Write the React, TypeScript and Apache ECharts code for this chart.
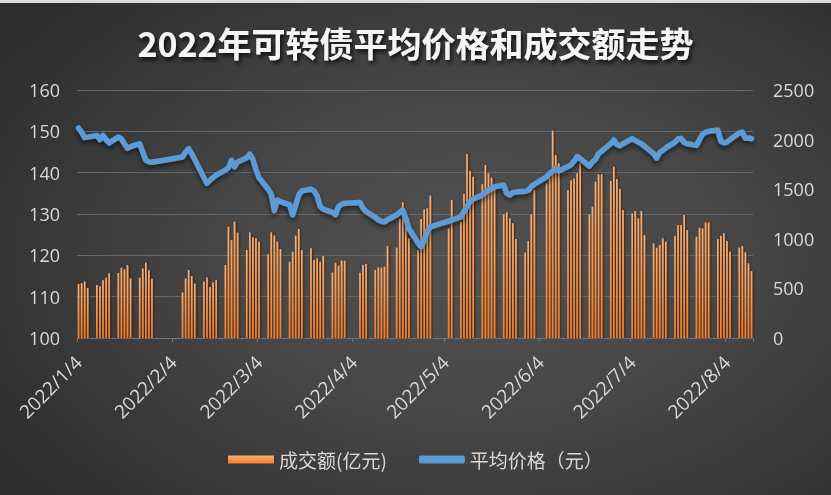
import React, { useEffect, useRef } from "react";
import * as echarts from "echarts";

const TITLE = "2022年可转债平均价格和成交额走势";
const VOLUME_NAME = "成交额(亿元)";
const PRICE_NAME = "平均价格（元）";
const YEAR = 2022;
const FIRST_DAY = [1, 4]; // month, day
const LAST_DAY = [8, 12];
const LABEL_DAY_OF_MONTH = 4;

const priceTicks = { min: 100, max: 160, interval: 10 };
const turnoverTicks = { min: 0, max: 2500, interval: 500 };

const tradeDates = [
  "1/4", "1/5", "1/6", "1/7", "1/10", "1/11", "1/12", "1/13", "1/14", "1/17", "1/18", "1/19", "1/20", "1/21", "1/24", "1/25", "1/26", "1/27", "1/28",
  "2/7", "2/8", "2/9", "2/10", "2/11", "2/14", "2/15", "2/16", "2/17", "2/18", "2/21", "2/22", "2/23", "2/24", "2/25", "2/28",
  "3/1", "3/2", "3/3", "3/4", "3/7", "3/8", "3/9", "3/10", "3/11", "3/14", "3/15", "3/16", "3/17", "3/18", "3/21", "3/22", "3/23", "3/24", "3/25", "3/28", "3/29", "3/30", "3/31",
  "4/1", "4/6", "4/7", "4/8", "4/11", "4/12", "4/13", "4/14", "4/15", "4/18", "4/19", "4/20", "4/21", "4/22", "4/25", "4/26", "4/27", "4/28", "4/29",
  "5/5", "5/6", "5/9", "5/10", "5/11", "5/12", "5/13", "5/16", "5/17", "5/18", "5/19", "5/20", "5/23", "5/24", "5/25", "5/26", "5/27", "5/30", "5/31",
  "6/1", "6/2", "6/6", "6/7", "6/8", "6/9", "6/10", "6/13", "6/14", "6/15", "6/16", "6/17", "6/20", "6/21", "6/22", "6/23", "6/24", "6/27", "6/28", "6/29", "6/30",
  "7/1", "7/4", "7/5", "7/6", "7/7", "7/8", "7/11", "7/12", "7/13", "7/14", "7/15", "7/18", "7/19", "7/20", "7/21", "7/22", "7/25", "7/26", "7/27", "7/28", "7/29",
  "8/1", "8/2", "8/3", "8/4", "8/5", "8/8", "8/9", "8/10", "8/11", "8/12",
];

const turnover = [
  544, 554, 571, 504, 534, 521, 581, 608, 652, 655, 709, 692, 736, 601, 608, 702, 759, 682, 598,
  460, 601, 685, 625, 548, 568, 611, 514, 560, 583, 736, 1122, 988, 1173, 1062, 887,
  1065, 1015, 1005, 971, 843, 1065, 1032, 971, 897, 769, 870, 1032, 1099, 887, 904, 786, 803, 769, 827, 659, 759, 729, 780,
  780, 659, 736, 746, 685, 712, 709, 719, 927, 911, 1200, 1368, 1257, 1005, 887, 1200, 1297, 1307, 1435,
  1105, 1391, 1173, 1452, 1855, 1683, 1626, 1549, 1744, 1660, 1616, 1542, 1246, 1267, 1206, 1156, 998, 860, 978,
  1246, 1492, 1559, 1616, 2090, 1845, 1761, 1492, 1589, 1609, 1660, 1761, 1246, 1324, 1576, 1650, 1650, 1583, 1727, 1603, 1502,
  1290, 1257, 1280, 1206, 1280, 1038, 954, 911, 937, 1005, 971, 1028, 1139, 1139, 1240, 1089, 1021, 1112, 1105, 1166, 1166,
  998, 1032, 1055, 978, 870, 911, 927, 864, 753, 675,
];

const avgPrice = [
  150.8, 149.8, 148.5, 148.6, 149.0, 148.0, 149.0, 148.0, 147.2, 148.6, 148.2, 147.0, 145.9, 146.3, 147.0, 145.0, 143.0, 142.6, 142.5,
  143.8, 145.0, 145.8, 144.6, 143.2, 138.8, 137.4, 138.2, 138.8, 139.4, 140.6, 141.2, 143.0, 141.4, 142.6, 143.6,
  144.5, 143.2, 140.8, 138.8, 136.0, 134.8, 130.8, 133.4, 133.0, 132.2, 129.8, 132.2, 134.6, 135.6, 136.0, 135.6, 134.4, 131.8, 131.2, 130.4, 129.8, 131.8, 132.4,
  132.6, 132.8, 131.4, 130.6, 129.2, 128.6, 128.2, 128.1, 128.6, 129.8, 130.4, 131.0, 129.0, 126.5, 123.0, 122.1, 123.6, 125.8, 126.9,
  128.3, 128.5, 129.3, 130.6, 131.8, 133.0, 133.6, 134.6, 135.2, 135.7, 136.1, 136.6, 137.0, 135.0, 134.6, 135.2, 135.3, 135.5, 135.7,
  136.6, 137.2, 139.0, 139.8, 140.4, 141.1, 140.4, 141.5, 141.9, 142.8, 143.9, 143.4, 141.6, 142.6, 143.2, 144.6, 145.2, 147.0, 147.9, 146.8, 146.5,
  147.0, 148.2, 147.8, 147.4, 147.0, 146.4, 144.6, 143.5, 144.9, 145.4, 146.0, 147.4, 148.2, 148.3, 147.3, 147.0, 146.6, 148.0, 149.3, 149.8, 150.0,
  150.3, 147.6, 147.2, 147.4, 148.0, 149.6, 149.8, 148.3, 148.4, 148.2,
];

const FONT = "'Open Sans', 'Noto Sans CJK SC', sans-serif";
const LABEL_COLOR = "#d9d9d9";

function buildCalendar() {
  const days: string[] = [];
  const start = Date.UTC(YEAR, FIRST_DAY[0] - 1, FIRST_DAY[1]);
  const end = Date.UTC(YEAR, LAST_DAY[0] - 1, LAST_DAY[1]);
  for (let t = start; t <= end; t += 86400000) {
    const d = new Date(t);
    days.push(`${d.getUTCFullYear()}/${d.getUTCMonth() + 1}/${d.getUTCDate()}`);
  }
  const volMap = new Map<string, number>();
  const priceMap = new Map<string, number>();
  tradeDates.forEach((md, i) => {
    volMap.set(`${YEAR}/${md}`, turnover[i]);
    priceMap.set(`${YEAR}/${md}`, avgPrice[i]);
  });
  const vol = days.map((d) => (volMap.has(d) ? volMap.get(d)! : null));
  const price = days.map((d) => (priceMap.has(d) ? priceMap.get(d)! : null));
  return { days, vol, price };
}

const isLabelDay = (_i: number, v: string) => Number(String(v).split("/")[2]) === LABEL_DAY_OF_MONTH;

export default function App() {
  const ref = useRef<HTMLDivElement>(null);
  useEffect(() => {
    if (!ref.current) return;
    const chart = echarts.init(ref.current, undefined, { renderer: "svg" });
    const { days, vol, price } = buildCalendar();
    chart.setOption({
      animation: false,
      backgroundColor: "transparent",
      textStyle: { fontFamily: FONT },
      title: {
        text: TITLE,
        left: "center",
        top: 20,
        textStyle: {
          color: "#f5f5f5",
          fontSize: 34,
          fontWeight: "bold",
          fontFamily: "'Noto Sans CJK SC', sans-serif",
          textShadowColor: "rgba(0,0,0,0.75)",
          textShadowBlur: 4,
          textShadowOffsetX: 2,
          textShadowOffsetY: 3,
        },
      },
      legend: {
        left: 223,
        top: 445,
        itemWidth: 46,
        itemHeight: 8,
        itemGap: 32,
        textStyle: { color: LABEL_COLOR, fontSize: 19, fontFamily: "'Noto Sans CJK SC', sans-serif" },
        data: [
          { name: VOLUME_NAME, icon: "rect" },
          { name: PRICE_NAME, icon: "roundRect" },
        ],
      },
      grid: { left: 77, right: 78, top: 90, bottom: 157 },
      xAxis: {
        type: "category",
        data: days,
        boundaryGap: true,
        axisLine: { show: true, lineStyle: { color: "#767676", width: 1 } },
        axisTick: { show: true, interval: isLabelDay, alignWithLabel: false, length: 4, lineStyle: { color: "#767676" } },
        axisLabel: {
          interval: isLabelDay,
          rotate: 45,
          margin: 21,
          color: LABEL_COLOR,
          fontSize: 19,
          fontFamily: FONT,
        },
        splitLine: { show: false },
      },
      yAxis: [
        {
          type: "value",
          min: priceTicks.min,
          max: priceTicks.max,
          interval: priceTicks.interval,
          axisLine: { show: false },
          axisTick: { show: false },
          axisLabel: { color: LABEL_COLOR, fontSize: 18, margin: 17, fontFamily: FONT },
          splitLine: { lineStyle: { color: "#686868", width: 1.2 } },
        },
        {
          type: "value",
          min: turnoverTicks.min,
          max: turnoverTicks.max,
          interval: turnoverTicks.interval,
          axisLine: { show: false },
          axisTick: { show: false },
          axisLabel: {
            color: LABEL_COLOR,
            fontSize: 18,
            margin: 20,
            fontFamily: FONT,
            formatter: (v: number) => String(v),
          },
          splitLine: { show: false },
        },
      ],
      series: [
        {
          name: VOLUME_NAME,
          type: "bar",
          yAxisIndex: 1,
          data: vol,
          barWidth: 1.7,
          itemStyle: {
            color: new echarts.graphic.LinearGradient(0, 0, 0, 1, [
              { offset: 0, color: "#f7ad72" },
              { offset: 1, color: "#ee7d2e" },
            ]),
            shadowColor: "rgba(60,25,0,0.9)",
            shadowBlur: 2,
            shadowOffsetX: 1.3,
          },
        },
        {
          name: PRICE_NAME,
          type: "line",
          yAxisIndex: 0,
          data: price,
          connectNulls: true,
          showSymbol: false,
          symbol: "none",
          color: "#5b9bd5",
          lineStyle: {
            color: "#5b9bd5",
            width: 5.5,
            cap: "round",
            join: "round",
            shadowColor: "rgba(0,0,0,0.55)",
            shadowBlur: 5,
            shadowOffsetY: 3,
          },
          itemStyle: { color: "#5b9bd5" },
        },
      ],
    });
    return () => chart.dispose();
  }, []);

  return (
    <div
      style={{
        position: "fixed",
        left: 0,
        top: 0,
        width: 831,
        height: 495,
        background: "radial-gradient(ellipse 70% 75% at 58% 52%, #525252 0%, #464646 45%, #2d2d2d 100%)",
        overflow: "hidden",
      }}
    >
      <div ref={ref} style={{ width: 831, height: 495 }} />
      <div style={{ position: "absolute", left: 0, top: 0, width: 831, height: 3, background: "#dcdcdc" }} />
    </div>
  );
}
